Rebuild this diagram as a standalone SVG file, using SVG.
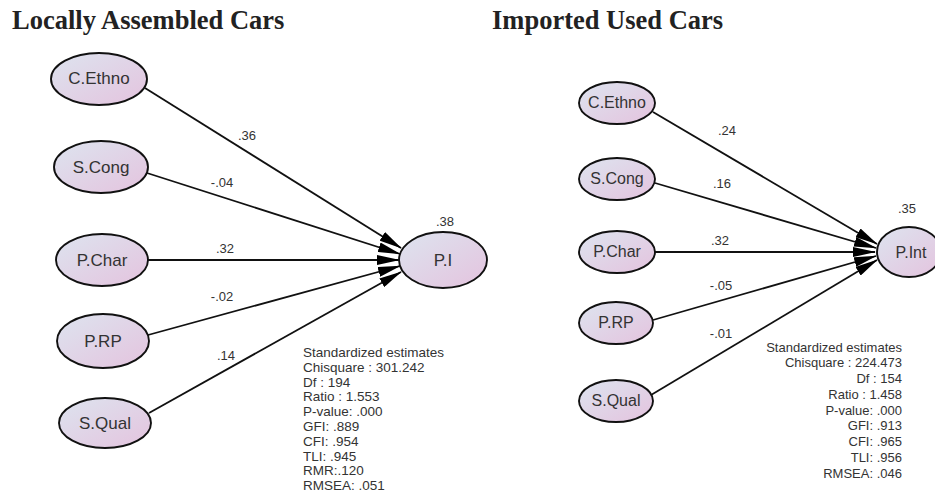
<svg xmlns="http://www.w3.org/2000/svg" width="935" height="493" viewBox="0 0 935 493">
<style>
.title{font-family:"Liberation Serif","Times New Roman",serif;font-weight:bold;font-size:26.5px;fill:#222}
.node ellipse{fill:url(#g);stroke:#111;stroke-width:1.9}
.node text{font-family:"Liberation Sans",Arial,sans-serif;font-size:16px;fill:#333;text-anchor:middle}
.node.big text{font-size:17px}
.edges line{stroke:#111;stroke-width:1.8;marker-end:url(#ah)}
.lbl{font-family:"Liberation Sans",Arial,sans-serif;font-size:13px;fill:#333;text-anchor:middle}
.stat{font-family:"Liberation Sans",Arial,sans-serif;font-size:13.5px;fill:#333}
.statr{font-family:"Liberation Sans",Arial,sans-serif;font-size:13px;fill:#333;text-anchor:end}
</style>
<defs>
<linearGradient id="g" x1="0" y1="0" x2="1" y2="1">
<stop offset="0" stop-color="#dde4ef"/>
<stop offset="1" stop-color="#e4c3de"/>
</linearGradient>
<marker id="ah" markerUnits="userSpaceOnUse" markerWidth="23" markerHeight="10" refX="22" refY="5" orient="auto">
<path d="M0,0 L23,5 L0,10 z" fill="#000"/>
</marker>
</defs>
<rect width="935" height="493" fill="#fff"/>
<text class="title" x="12" y="29">Locally Assembled Cars</text>
<text class="title" x="492" y="29">Imported Used Cars</text>

<g class="edges" id="connectors">
<line x1="145" y1="88" x2="401" y2="248"/>
<line x1="147" y1="173" x2="400" y2="254"/>
<line x1="148" y1="260" x2="399" y2="260"/>
<line x1="148" y1="335" x2="400" y2="266"/>
<line x1="149" y1="413" x2="401" y2="272"/>
<line x1="653" y1="112" x2="877" y2="244"/>
<line x1="655" y1="183" x2="876" y2="248"/>
<line x1="655" y1="252" x2="875" y2="252"/>
<line x1="653" y1="320" x2="876" y2="256"/>
<line x1="651" y1="395" x2="877" y2="260"/>
</g>

<g id="L_CEthno" class="node big"><ellipse cx="99" cy="79" rx="48" ry="26"/><text x="99" y="84">C.Ethno</text></g>
<g id="L_SCong" class="node big"><ellipse cx="101" cy="167" rx="47" ry="26"/><text x="101" y="173">S.Cong</text></g>
<g id="L_PChar" class="node big"><ellipse cx="102" cy="260" rx="46" ry="26"/><text x="102" y="266">P.Char</text></g>
<g id="L_PRP" class="node big"><ellipse cx="103" cy="341" rx="46" ry="27"/><text x="103" y="347">P.RP</text></g>
<g id="L_SQual" class="node big"><ellipse cx="105" cy="423" rx="46" ry="25"/><text x="105" y="429">S.Qual</text></g>
<g id="L_PI" class="node big"><ellipse cx="443" cy="260" rx="44" ry="28"/><text x="443" y="266">P.I</text></g>

<g id="R_CEthno" class="node"><ellipse cx="617" cy="103" rx="38" ry="21"/><text x="617" y="108">C.Ethno</text></g>
<g id="R_SCong" class="node"><ellipse cx="617" cy="179" rx="38" ry="21"/><text x="617" y="184">S.Cong</text></g>
<g id="R_PChar" class="node"><ellipse cx="617" cy="252" rx="38" ry="21"/><text x="617" y="257">P.Char</text></g>
<g id="R_PRP" class="node"><ellipse cx="616" cy="323" rx="37" ry="21"/><text x="616" y="328">P.RP</text></g>
<g id="R_SQual" class="node"><ellipse cx="616" cy="401" rx="37" ry="21"/><text x="616" y="406">S.Qual</text></g>
<g id="R_PInt" class="node"><ellipse cx="909" cy="252" rx="32" ry="25"/><text x="911" y="258">P.Int</text></g>

<g id="labels">
<text class="lbl" x="247" y="140">.36</text>
<text class="lbl" x="222" y="187">-.04</text>
<text class="lbl" x="225" y="253">.32</text>
<text class="lbl" x="222" y="301">-.02</text>
<text class="lbl" x="226" y="360">.14</text>
<text class="lbl" x="445" y="226">.38</text>
<text class="lbl" x="727" y="135">.24</text>
<text class="lbl" x="722" y="188">.16</text>
<text class="lbl" x="720" y="245">.32</text>
<text class="lbl" x="721" y="290">-.05</text>
<text class="lbl" x="721" y="338">-.01</text>
<text class="lbl" x="907" y="213">.35</text>
</g>

<g id="stats_left" class="stat">
<text x="303" y="357">Standardized estimates</text>
<text x="303" y="371.8">Chisquare : 301.242</text>
<text x="303" y="386.6">Df : 194</text>
<text x="303" y="401.4">Ratio : 1.553</text>
<text x="303" y="416.2">P-value: .000</text>
<text x="303" y="431">GFI: .889</text>
<text x="303" y="445.8">CFI: .954</text>
<text x="303" y="460.6">TLI: .945</text>
<text x="303" y="475.4">RMR:.120</text>
<text x="303" y="490.2">RMSEA: .051</text>
</g>

<g id="stats_right" class="statr">
<text x="902" y="351.5">Standardized estimates</text>
<text x="902" y="367.2">Chisquare : 224.473</text>
<text x="902" y="383">Df : 154</text>
<text x="902" y="398.7">Ratio : 1.458</text>
<text x="902" y="414.5">P-value: .000</text>
<text x="902" y="430.2">GFI: .913</text>
<text x="902" y="446">CFI: .965</text>
<text x="902" y="461.7">TLI: .956</text>
<text x="902" y="477.5">RMSEA: .046</text>
</g>
</svg>
